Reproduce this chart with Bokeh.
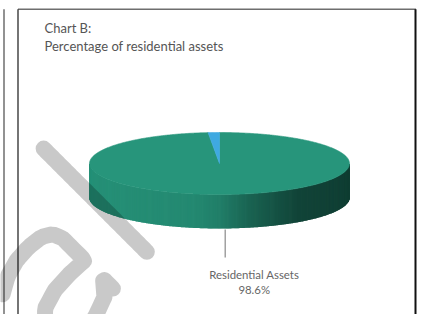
import numpy as np
from bokeh.plotting import figure
from bokeh.models import Range1d
from bokeh.core.properties import value
from bokeh.embed import file_html
from bokeh.resources import INLINE

# ---- data ----
categories = ["Residential Assets", "Other Assets"]
values = [98.6, 1.4]
slice_colors = ["#27957b", "#3fa9e1"]
show_label = [True, False]
title_lines = ["Chart B:", "Percentage of residential assets"]

# ---- layout (page pixel coordinates, y grows downward) ----
W, H = 422, 314
p = figure(width=W, height=H, x_range=Range1d(0, W), y_range=Range1d(H, 0),
           output_backend="svg", toolbar_location=None, min_border=0)
p.axis.visible = False
p.grid.visible = False
p.outline_line_color = None
p.background_fill_color = "white"
p.border_fill_color = "white"

cx, cy, rx, ry, depth = 219.0, 163.0, 130.0, 31.0, 34.0

def hexrgb(h):
    h = h.lstrip("#")
    return np.array([int(h[i:i + 2], 16) for i in (0, 2, 4)], dtype=float)

def shade(h, f):
    c = np.clip(hexrgb(h) * f, 0, 255).astype(int)
    return "#%02x%02x%02x" % tuple(c)

# side shading as function of horizontal position
tk = [0.0, 0.4, 0.5, 0.62, 0.8, 1.0]
fk = [0.97, 0.92, 0.85, 0.66, 0.46, 0.42]

total = float(sum(values))
cum = np.concatenate([[0.0], np.cumsum(values)])
starts = 90.0 - 360.0 * cum[:-1] / total
ends = 90.0 - 360.0 * cum[1:] / total

# side strips (slightly overlapping so no seams appear)
sx, sy, sc = [], [], []
for s, e, col in zip(starts, ends, slice_colors):
    th = np.radians(np.linspace(s, e, max(int(abs(s - e) * 2), 2)))
    for a0, a1 in zip(th[:-1], th[1:]):
        if np.sin(a0) <= 0.001 and np.sin(a1) <= 0.001:
            x0, x1 = cx + rx * np.cos(a0), cx + rx * np.cos(a1)
            y0, y1 = cy - ry * np.sin(a0), cy - ry * np.sin(a1)
            xa, xb = min(x0, x1) - 0.4, max(x0, x1) + 0.4
            ya, yb = (y0, y1) if x0 < x1 else (y1, y0)
            sx.append([xa, xb, xb, xa])
            sy.append([ya, yb, yb + depth, ya + depth])
            t = ((x0 + x1) / 2 - (cx - rx)) / (2 * rx)
            sc.append(shade(col, np.interp(t, tk, fk)))
p.patches(sx, sy, fill_color=sc, line_color=None)

# top faces
for s, e, col in zip(starts, ends, slice_colors):
    th = np.radians(np.linspace(s, e, max(int(abs(s - e) * 2), 3)))
    xs = np.concatenate([[cx], cx + rx * np.cos(th)])
    ys = np.concatenate([[cy], cy - ry * np.sin(th)])
    p.patch(xs, ys, fill_color=col, line_color=col, line_width=0.6)

# labels with leader lines
lab_font = value("Lato")
for s, e, cat, v, show in zip(starts, ends, categories, values, show_label):
    if not show:
        continue
    m = np.radians((s + e) / 2)
    lx = cx + rx * np.cos(m)
    ly = cy - ry * np.sin(m) + depth
    p.line([lx, lx], [ly + 1, ly + 29], line_color="#9a9a9a", line_width=1.4)
    p.text([lx + 29], [ly + 46], text=[cat], text_align="center", text_baseline="middle",
           text_font=lab_font, text_font_size="11.4px", text_color="#666666")
    p.text([lx + 29], [ly + 61], text=["%.1f%%" % v], text_align="center",
           text_baseline="middle", text_font=lab_font, text_font_size="11.4px",
           text_color="#666666")

# title
for i, t in enumerate(title_lines):
    p.text([44], [27 + 18 * i], text=[t], text_align="left", text_baseline="middle",
           text_font=value("Lato"), text_font_size="13px", text_color="#555555")

# frame
p.line([17.5, 415.5], [8.8, 8.8], line_color="#6e6e6e", line_width=1.6)
p.line([17.5, 17.5], [8.8, 320], line_color="#3a3a3a", line_width=1.4)
p.line([415, 415], [8.8, 320], line_color="#111111", line_width=2.0)
p.line([3.5, 3.5], [8.8, 320], line_color="#777777", line_width=1.6)

# watermark strokes (decorative, rotated lettering)
O = np.array([152.0, 257.0])
U = np.array([0.707, -0.707])
V = np.array([-0.707, -0.707])

def loc(pts):
    pts = np.array(pts, dtype=float)
    xy = O + pts[:, :1] * U + pts[:, 1:] * V
    return list(xy[:, 0]), list(xy[:, 1])

def smooth(pts, n=80):
    pts = np.array(pts, dtype=float)
    d = np.concatenate([[0], np.cumsum(np.hypot(*np.diff(pts, axis=0).T))])
    tt = np.linspace(0, d[-1], n)
    return np.column_stack([np.interp(tt, d, pts[:, 0]), np.interp(tt, d, pts[:, 1])])

wm = dict(line_color="black", line_alpha=0.21, line_width=16, line_cap="round", line_join="round")
strokes = [
    [(0, 8), (0, 154)],
    [(-132, 80), (-116, 89), (-98, 94), (-80, 95), (-64, 93), (-54, 87), (-50, 77),
     (-50, 46), (-70, 47), (-92, 46), (-112, 40), (-125, 27), (-124, 12), (-108, 2),
     (-84, -2), (-62, 6), (-50, 20), (-50, 6)],
]
for st in strokes:
    pts = smooth(st)
    xs, ys = loc(pts)
    p.line(xs, ys, **wm)

open("out.html", "w").write(file_html(p, INLINE))
